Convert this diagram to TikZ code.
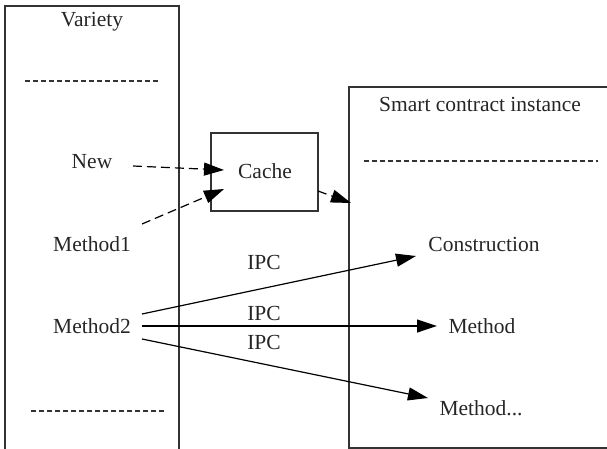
\documentclass[tikz,border=0pt]{standalone}
\usepackage{fontspec}
\setmainfont{Liberation Serif}
\usetikzlibrary{arrows.meta}
\begin{document}
\begin{tikzpicture}[x=1pt,y=-1pt,
  every node/.style={font=\fontsize{21.5}{25}\selectfont, inner sep=0pt, text=black!85},
  frame/.style={draw=black!80, line width=1.3pt},
  sep/.style={draw=black!80, line width=1.1pt, dash pattern=on 5pt off 3pt},
  dconn/.style={draw=black, line width=1.2pt, dash pattern=on 9pt off 5pt, -{Triangle[length=20pt,width=13pt]}},
  sconn/.style={draw=black, line width=1.2pt, -{Triangle[length=20pt,width=13pt]}},
  ipc/.style={font=\fontsize{21.5}{25}\selectfont}]
\useasboundingbox (0,0) rectangle (607,449);
% left panel (open at bottom)
\draw[frame] (5,449) -- (5,6) -- (179,6) -- (179,449);
\node (var) at (92,22) {Variety};
\draw[sep] (25,81) -- (160,81);
\node (new) at (92,162) {New};
\node (m1) at (92,244) {Method1};
\node (m2) at (92,326) {Method2};
\draw[sep] (31,411) -- (165,411);
% cache
\node[frame, minimum width=107pt, minimum height=78pt] (cache) at (264.5,172) {};
\node (cachet) at (265,171) {Cache};
% right panel
\draw[frame] (607,87) -- (349,87) -- (349,448) -- (607,448);
\node (sci) at (480,104) {Smart contract instance};
\draw[sep] (364,161) -- (598,161);
\node (cons) at (484,244) {Construction};
\node (meth) at (482,326) {Method};
\node (methd) at (481,408) {Method...};
% connector endpoints
\coordinate (newo) at (133,166);
\coordinate (cachein1) at (224,170);
\coordinate (m1o) at (142,224);
\coordinate (cachein2) at (224,189);
\coordinate (cacheo) at (318,191);
\coordinate (scin) at (351,203);
\coordinate (m2a) at (142,314);
\coordinate (m2b) at (142,326);
\coordinate (m2c) at (142,339);
\coordinate (consin) at (416,256);
\coordinate (methin) at (437,326);
\coordinate (methdin) at (428,398);
\draw[dconn] (newo) -- (cachein1);
\draw[dconn] (m1o) -- (cachein2);
\draw[dconn] (cacheo) -- (scin);
\draw[sconn] (m2a) -- (consin);
\draw[sconn] (m2b) -- (methin);
\draw[sconn] (m2c) -- (methdin);
\node[ipc] (ipc1) at (264,262) {IPC};
\node[ipc] (ipc2) at (264,313) {IPC};
\node[ipc] (ipc3) at (264,342) {IPC};
\end{tikzpicture}
\end{document}
